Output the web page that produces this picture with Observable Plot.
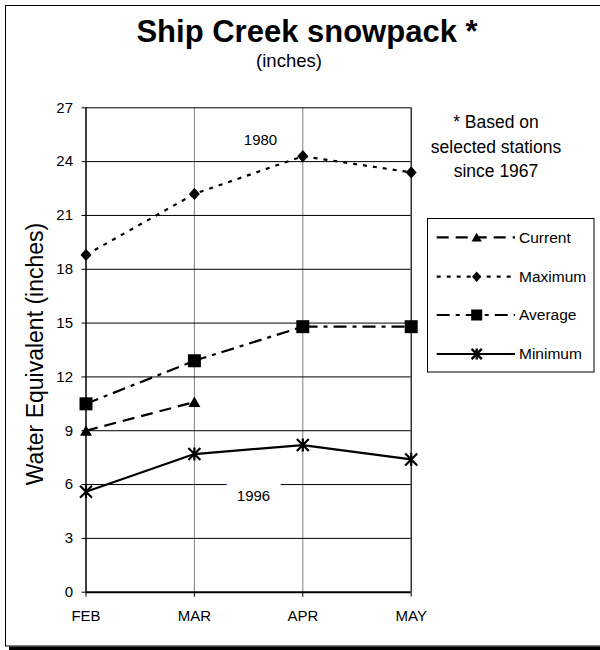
<!DOCTYPE html>
<html>
<head>
<meta charset="utf-8">
<script src="https://cdn.jsdelivr.net/npm/d3@7"></script>
<script src="https://cdn.jsdelivr.net/npm/@observablehq/plot@0.6"></script>
<style>
  html, body { margin: 0; padding: 0; background: white; }
  #wrap { position: relative; width: 600px; height: 650px; overflow: hidden; font-family: "Liberation Sans", Arial, sans-serif; }
  #wrap > svg { position: absolute; left: 0; top: 0; }
</style>
</head>
<body>
<div id="wrap"></div>
<script>
// ---- data ----
const months = ["FEB", "MAR", "APR", "MAY"];
const current = [9.0, 10.6];
const maximum = [18.8, 22.2, 24.3, 23.4];
const average = [10.5, 12.9, 14.8, 14.8];
const minimum = [5.6, 7.7, 8.2, 7.4];
const yTicks = [0, 3, 6, 9, 12, 15, 18, 21, 24, 27];
const seriesNames = ["Current", "Maximum", "Average", "Minimum"];
const noteLabels = ["1980", "1996"];
const notePos = [1.61, 1.545];      // position along the month axis (0 = FEB)
const noteValues = [25.2, 5.33];
const titleText = "Ship Creek snowpack *";
const subtitleText = "(inches)";
const footnoteLines = ["* Based on", "selected stations", "since 1967"];
const yLabel = "Water Equivalent (inches)";

// ---- styles ----
const symbols = {
  Current: {draw(c) { c.moveTo(0, -5.5); c.lineTo(6, 5); c.lineTo(-6, 5); c.closePath(); }},
  Maximum: {draw(c) { c.moveTo(0, -6.2); c.lineTo(5.5, 0); c.lineTo(0, 6.2); c.lineTo(-5.5, 0); c.closePath(); }},
  Average: {draw(c) { c.rect(-6.5, -6.5, 13, 13); }},
  Minimum: {draw(c) { c.moveTo(-6, -6); c.lineTo(6, 6); c.moveTo(-6, 6); c.lineTo(6, -6); c.moveTo(0, -6.5); c.lineTo(0, 6.5); }}
};
const dashes = {Current: "12,7", Maximum: "4,6", Average: "13,6,4,6", Minimum: null};
const filled = {Current: true, Maximum: true, Average: true, Minimum: false};

const valuesBy = {Current: current, Maximum: maximum, Average: average, Minimum: minimum};
const rows = seriesNames.flatMap(s => valuesBy[s].map((v, i) => ({series: s, i, v})));
const notes = noteLabels.map((label, k) => ({label, pos: notePos[k], value: noteValues[k]}));
const xIdx = months.map((m, i) => i);
const xDomain = [0, months.length - 1];

const marks = [
  Plot.gridX(xIdx.slice(1, -1), {stroke: "#808080", strokeOpacity: 1}),
  Plot.gridY(yTicks.slice(1), {stroke: "black", strokeOpacity: 1}),
  Plot.ruleX([xDomain[1]], {stroke: "black", strokeWidth: 1.2}),
  Plot.ruleX([xDomain[0]], {stroke: "black", strokeWidth: 1.5}),
  Plot.text(notes, {x: "pos", y: "value", text: "label", fontSize: 15, fill: "black", stroke: "white", strokeWidth: 28}),
  Plot.axisY(yTicks, {tickSize: 4, tickPadding: 9, label: null, fontSize: 15}),
  Plot.axisX(xIdx, {tickSize: 5, tickPadding: 13, label: null, fontSize: 15, tickFormat: i => months[i]}),
  Plot.ruleY([0], {stroke: "black", strokeWidth: 2})
];
for (const s of seriesNames) {
  const data = rows.filter(d => d.series === s);
  marks.push(Plot.line(data, {x: "i", y: "v", stroke: "black", strokeWidth: 2.2, strokeDasharray: dashes[s], strokeLinecap: "butt"}));
}
for (const s of seriesNames) {
  const data = rows.filter(d => d.series === s);
  marks.push(Plot.dot(data, filled[s]
    ? {x: "i", y: "v", symbol: symbols[s], r: 6, fill: "black", stroke: "none"}
    : {x: "i", y: "v", symbol: symbols[s], r: 6, fill: "none", stroke: "black", strokeWidth: 2.2}));
}

const chart = Plot.plot({
  width: 600,
  height: 650,
  marginLeft: 85.5,
  marginRight: 189.3,
  marginTop: 107.3,
  marginBottom: 58.3,
  style: {fontFamily: "'Liberation Sans', Arial, sans-serif", fontSize: "15px", background: "transparent", color: "black", overflow: "visible"},
  x: {type: "linear", domain: xDomain},
  y: {domain: [yTicks[0], yTicks[yTicks.length - 1]]},
  marks
});
const wrap = document.getElementById("wrap");
wrap.appendChild(chart);

// ---- overlay: frame, titles, footnote, y label, legend ----
const ns = "http://www.w3.org/2000/svg";
const ov = document.createElementNS(ns, "svg");
ov.setAttribute("width", 600); ov.setAttribute("height", 650);
ov.style.fontFamily = "'Liberation Sans', Arial, sans-serif";
function el(tag, attrs, parent = ov) {
  const e = document.createElementNS(ns, tag);
  for (const k in attrs) e.setAttribute(k, attrs[k]);
  parent.appendChild(e);
  return e;
}
function txt(str, attrs) { const t = el("text", attrs); t.textContent = str; return t; }

// outer frame with shadow
el("rect", {x: 5.5, y: 5.5, width: 620, height: 640.5, fill: "none", stroke: "black", "stroke-width": 1});
el("rect", {x: 9, y: 646.5, width: 620, height: 4, fill: "black"});

txt(titleText, {x: 307, y: 42, "text-anchor": "middle", "font-size": 31, "font-weight": "bold", fill: "black"});
txt(subtitleText, {x: 289, y: 67, "text-anchor": "middle", "font-size": 18.5, fill: "black"});
footnoteLines.forEach((line, k) => txt(line, {x: 496, y: 128 + k * 24.5, "text-anchor": "middle", "font-size": 17.5, fill: "black"}));
txt(yLabel, {transform: "translate(43,354) rotate(-90)", "text-anchor": "middle", "font-size": 23, fill: "black"});

// legend
el("rect", {x: 427.5, y: 218.5, width: 166.5, height: 153.5, fill: "white", stroke: "black", "stroke-width": 1});
const rowY = [237.3, 276.7, 315, 354];
seriesNames.forEach((s, k) => {
  const y = rowY[k];
  const ln = el("line", {x1: 436.7, x2: 515, y1: y, y2: y, stroke: "black", "stroke-width": 2.2});
  if (dashes[s]) ln.setAttribute("stroke-dasharray", dashes[s]);
  const p = d3.path();
  symbols[s].draw(p);
  const g = el("path", {d: p.toString(), transform: `translate(476.7,${y}) scale(0.85)`});
  if (filled[s]) g.setAttribute("fill", "black");
  else { g.setAttribute("fill", "none"); g.setAttribute("stroke", "black"); g.setAttribute("stroke-width", 2.8); }
  txt(s, {x: 519, y: y + 5.4, "font-size": 15.5, fill: "black"});
});
wrap.appendChild(ov);
</script>
</body>
</html>
